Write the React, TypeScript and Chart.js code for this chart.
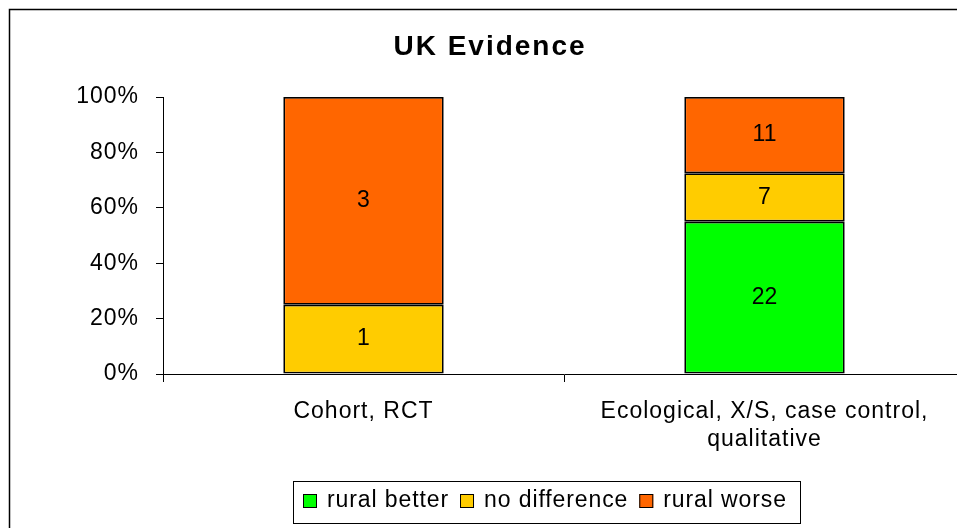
import React, { useEffect, useRef } from "react";
import { Chart, registerables } from "chart.js";

Chart.register(...registerables);

const categories: (string | string[])[] = [
  "Cohort, RCT",
  ["Ecological, X/S, case control,", "qualitative"],
];
const seriesNames = ["rural better", "no difference", "rural worse"];
const ruralBetter = [0, 22];
const noDifference = [1, 7];
const ruralWorse = [3, 11];
const seriesColors = ["#00FF00", "#FFCC00", "#FF6600"];
const yTicks = [0, 20, 40, 60, 80, 100];
const titleText = "UK Evidence";

const FONT = '"Liberation Sans", Arial, sans-serif';
const LS = "1px";

const counts = [ruralBetter, noDifference, ruralWorse];
const totals = categories.map((_, i) => counts.reduce((s, arr) => s + arr[i], 0));
const toPct = (arr: number[]) => arr.map((v, i) => (v / totals[i]) * 100);

const spacingPlugin = {
  id: "spacing",
  beforeLayout(chart: any) {
    chart.ctx.letterSpacing = LS;
  },
  beforeDraw(chart: any) {
    chart.ctx.letterSpacing = LS;
  },
};

const framePlugin = {
  id: "frame",
  afterDraw(chart: any) {
    const ctx = chart.ctx;
    ctx.save();
    ctx.strokeStyle = "#000";
    ctx.lineWidth = 1.5;
    ctx.strokeRect(9.5, 9.5, 1100, 1100);
    // title
    ctx.letterSpacing = "2px";
    ctx.font = `bold 28px ${FONT}`;
    ctx.fillStyle = "#000";
    ctx.textAlign = "center";
    ctx.textBaseline = "alphabetic";
    ctx.fillText(titleText, 490, 55);
    // legend
    ctx.letterSpacing = "0.9px";
    ctx.font = `23px ${FONT}`;
    ctx.lineWidth = 1;
    ctx.strokeStyle = "#000";
    ctx.strokeRect(293.5, 481.5, 507, 42);
    let x = 303;
    const cy = 501;
    chart.data.datasets.forEach((ds: any) => {
      ctx.fillStyle = ds.backgroundColor;
      ctx.fillRect(x, cy - 7, 14, 14);
      ctx.strokeRect(x + 0.5, cy - 6.5, 13, 13);
      ctx.fillStyle = "#000";
      ctx.textAlign = "left";
      ctx.textBaseline = "middle";
      ctx.fillText(ds.label, x + 24, cy);
      x += 24 + ctx.measureText(ds.label).width + 11;
    });
    ctx.restore();
  },
};

const segLabelPlugin = {
  id: "segLabels",
  afterDatasetsDraw(chart: any) {
    const ctx = chart.ctx;
    ctx.save();
    ctx.letterSpacing = "0px";
    ctx.font = `23px ${FONT}`;
    ctx.fillStyle = "#000";
    ctx.textAlign = "center";
    ctx.textBaseline = "middle";
    chart.data.datasets.forEach((ds: any, di: number) => {
      const meta = chart.getDatasetMeta(di);
      meta.data.forEach((el: any, i: number) => {
        const c = counts[di][i];
        if (!c) return;
        const p = el.getProps(["x", "y", "base"], true);
        ctx.fillText(String(c), p.x, (p.y + p.base) / 2);
      });
    });
    ctx.restore();
  },
};

export default function App() {
  const ref = useRef<HTMLCanvasElement>(null);
  useEffect(() => {
    if (!ref.current) return;
    const chart = new Chart(ref.current, {
      type: "bar",
      data: {
        labels: categories as any,
        datasets: seriesNames.map((name, i) => ({
          label: name,
          data: toPct(counts[i]),
          backgroundColor: seriesColors[i],
          borderColor: "#000",
          borderWidth: 1.8,
          borderSkipped: false,
          barPercentage: 0.4,
          categoryPercentage: 1,
        })),
      },
      options: {
        responsive: false,
        animation: false,
        devicePixelRatio: 1,
        layout: { padding: { top: 97, left: 0, right: 15, bottom: 0 } },
        plugins: {
          legend: { display: false },
          title: { display: false },
          tooltip: { enabled: false },
        },
        scales: {
          x: {
            stacked: true,
            afterFit: (s: any) => {
              s.height = 166;
            },
            border: { display: true, color: "#000", width: 1 },
            grid: {
              display: true,
              drawOnChartArea: false,
              drawTicks: true,
              tickLength: 8,
              color: "#000",
              offset: true,
            },
            ticks: {
              color: "#000",
              font: { family: FONT, size: 23, lineHeight: 1.2 },
              padding: 16,
              maxRotation: 0,
              autoSkip: false,
            },
          },
          y: {
            stacked: true,
            min: 0,
            max: 100,
            afterFit: (s: any) => {
              s.width = 163;
            },
            afterBuildTicks: (s: any) => {
              s.ticks = yTicks.map((v) => ({ value: v }));
            },
            border: { display: true, color: "#000", width: 1 },
            grid: {
              display: true,
              drawOnChartArea: false,
              drawTicks: true,
              tickLength: 7,
              color: "#000",
            },
            ticks: {
              color: "#000",
              font: { family: FONT, size: 23 },
              padding: 17,
              callback: (v: any) => `${v}%`,
            },
          },
        },
      },
      plugins: [spacingPlugin, segLabelPlugin, framePlugin],
    });
    return () => chart.destroy();
  }, []);
  return (
    <div
      style={{
        position: "fixed",
        left: 0,
        top: 0,
        width: 957,
        height: 528,
        overflow: "hidden",
        background: "#fff",
      }}
    >
      <canvas ref={ref} width={980} height={540} style={{ width: 980, height: 540, display: "block" }} />
    </div>
  );
}
